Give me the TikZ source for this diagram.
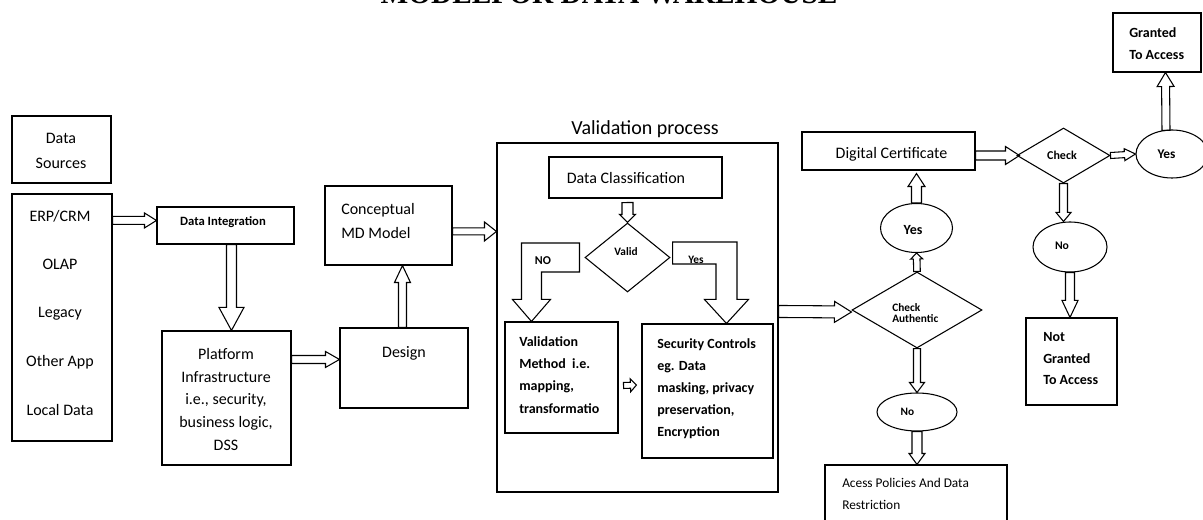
\documentclass[tikz,border=0pt]{standalone}
\usepackage{fontspec}
\setmainfont{Carlito}
\newfontfamily\titlefont{Liberation Serif}
\usetikzlibrary{shapes.geometric,calc,fit}
\tikzset{
  bx/.style={draw, line width=0.8pt, inner sep=0pt},
  hol/.style={draw, line width=0.8pt, line join=miter},
  dia/.style={draw, diamond, line width=0.8pt, inner sep=0pt},
  ell/.style={draw, ellipse, line width=0.8pt, inner sep=0pt},
  txt/.style={inner sep=0pt, font=\fontsize{12}{17}\selectfont},
  btxt/.style={inner sep=0pt, font=\bfseries\fontsize{10.5}{16.75}\selectfont, align=left, anchor=north west},
}
\newcommand\harr[5]{%
  \draw[hol] let \p1=(#1), \p2=(#2),
    \n1={atan2(\y2-\y1,\x2-\x1)}, \n2={veclen(\x2-\x1,\y2-\y1)} in
    ([shift={(\p1)},rotate=\n1]0pt,#3*0.75pt)
    -- ([shift={(\p1)},rotate=\n1]\n2-#5*0.75pt,#3*0.75pt)
    -- ([shift={(\p1)},rotate=\n1]\n2-#5*0.75pt,#4*0.75pt)
    -- ([shift={(\p1)},rotate=\n1]\n2,0pt)
    -- ([shift={(\p1)},rotate=\n1]\n2-#5*0.75pt,-#4*0.75pt)
    -- ([shift={(\p1)},rotate=\n1]\n2-#5*0.75pt,-#3*0.75pt)
    -- ([shift={(\p1)},rotate=\n1]0pt,-#3*0.75pt) -- cycle;}
\begin{document}
\begin{tikzpicture}[x=0.75pt,y=-0.75pt]
\useasboundingbox (0,0) rectangle (1203,520);

% title (cut off by the page top)
\node[inner sep=0pt, anchor=base, font=\titlefont\bfseries\fontsize{22}{22}\selectfont] (title) at (609,4) {MODELFOR DATA WAREHOUSE};

% ---------- left part ----------
\node[bx, fit={(12,116)(111,183)}] (ds) {};
\node[txt, align=center, anchor=north, font=\fontsize{12}{18.75}\selectfont] (dst) at (61,133) {Data\\Sources};

\node[bx, fit={(12,194)(112,441)}] (src) {};
\node[txt, anchor=base] (erp) at (60,222) {ERP/CRM};
\node[txt, anchor=base] (olap) at (60,270) {OLAP};
\node[txt, anchor=base] (leg) at (60,317) {Legacy};
\node[txt, anchor=base] (oth) at (60,366) {Other App};
\node[txt, anchor=base] (loc) at (60,415) {Local Data};

\node[bx, fit={(157,207)(294,244)}] (di) {};
\node[inner sep=0pt, font=\bfseries\fontsize{9.5}{11}\selectfont] (dit) at (223,222) {Data Integration};

\node[bx, fit={(162,331)(291,465)}] (plat) {};
\node[txt, align=center, anchor=north] (platt) at (226,348) {Platform\\Infrastructure\\i.e., security,\\business logic,\\DSS};

\node[bx, fit={(340,328)(468,408)}] (design) {};
\node[txt, anchor=base] (dest) at (404,358) {Design};

\node[bx, fit={(325,186)(452,265)}] (cmd) {};
\node[txt, align=left, anchor=north west, font=\fontsize{12}{18}\selectfont] (cmdt) at (341,203) {Conceptual\\MD Model};

% ---------- validation process ----------
\node[inner sep=0pt, anchor=base, font=\fontsize{15}{18}\selectfont] (vpt) at (645,135) {Validation process};
\node[bx, fit={(497,143)(778,492)}] (vbox) {};
\node[bx, fit={(549,157)(722,198)}] (dc) {};
\node[txt] (dct) at (626,178) {Data Classification};
\node[dia, minimum width=63.75pt, minimum height=51.75pt] (valid) at (627.5,257.5) {};
\node[inner sep=0pt, font=\bfseries\fontsize{8.5}{10}\selectfont] (validt) at (626,252) {Valid};

\node[bx, fit={(505,322)(618,433)}] (vm) {};
\node[btxt] (vmt) at (519,336) {Validation\\Method\ \ i.e.\\mapping,\\transformatio};
\node[bx, fit={(642,324)(773,458)}] (sc) {};
\node[btxt, font=\bfseries\fontsize{10.5}{16.5}\selectfont] (sct) at (657,338) {Security Controls\\eg. Data\\masking, privacy\\preservation,\\Encryption};

\coordinate (nT) at ($(vm.north west)+(27,0)$);
\coordinate (yT) at ($(sc.north west)+(85,0)$);
\draw[hol] ($(nT |- valid.west)+(-10,-14.5)$) -- ($(valid.west)+(-5,-14.5)$)
  -- ($(valid.west)+(-5,14.5)$) -- ($(nT |- valid.west)+(10,14.5)$)
  -- ($(nT)+(10,-22)$) -- ($(nT)+(19,-22)$) -- (nT) -- ($(nT)+(-19,-22)$)
  -- ($(nT)+(-10,-22)$) -- cycle;
\draw[hol] ($(valid.east)+(2,-15.5)$) -- ($(yT |- valid.east)+(10.5,-15.5)$)
  -- ($(yT)+(10.5,-24)$) -- ($(yT)+(22,-24)$) -- (yT) -- ($(yT)+(-22,-24)$)
  -- ($(yT)+(-10.5,-24)$) -- ($(yT |- valid.east)+(-10.5,6.5)$)
  -- ($(valid.east)+(2,6.5)$) -- cycle;
\node[inner sep=0pt, font=\bfseries\fontsize{9}{10}\selectfont] (not) at (543,261) {NO};
\node[inner sep=0pt, font=\bfseries\fontsize{8.5}{10}\selectfont] (yest) at (696,260) {Yes};

% ---------- right part ----------
\node[dia, minimum width=97.5pt, minimum height=57pt] (checkA) at (917,310) {};
\node[inner sep=0pt, align=left, anchor=north west, font=\bfseries\fontsize{8.5}{8.5}\selectfont] (checkAt) at (892,303) {Check\\Authentic};
\node[ell, minimum width=54pt, minimum height=36.75pt] (yes1) at (916.5,228) {};
\node[inner sep=0pt, font=\bfseries\fontsize{10.5}{12}\selectfont] (yes1t) at (913,230) {Yes};
\node[ell, minimum width=60pt, minimum height=28.5pt] (no1) at (917,412) {};
\node[inner sep=0pt, font=\bfseries\fontsize{8.5}{10}\selectfont] (no1t) at (907.5,412) {No};
\node[bx, fit={(802,132)(975,170)}] (digc) {};
\node[txt] (digct) at (891.5,154) {Digital Certificate};
\node[bx, fit={(825,465)(1007,530)}] (acp) {};
\node[inner sep=0pt, align=left, anchor=north west, font=\fontsize{10}{16.25}\selectfont] (acpt) at (842,478) {Acess Policies And Data\\Restriction};

\node[dia, minimum width=69.75pt, minimum height=41.25pt] (check) at (1063.5,155.5) {};
\node[inner sep=0pt, font=\bfseries\fontsize{9}{10}\selectfont] (checkt) at (1062,155.5) {Check};
\node[ell, minimum width=54pt, minimum height=36pt] (yes2) at (1172,154) {};
\node[inner sep=0pt, font=\bfseries\fontsize{10}{12}\selectfont] (yes2t) at (1166.5,154) {Yes};
\node[ell, minimum width=55.5pt, minimum height=37.5pt] (no2) at (1070,247) {};
\node[inner sep=0pt, font=\bfseries\fontsize{8.75}{10}\selectfont] (no2t) at (1062,246) {No};
\node[bx, fit={(1113,13)(1201,72)}] (gta) {};
\node[btxt, font=\bfseries\fontsize{10.5}{17}\selectfont] (gtat) at (1129,27) {Granted\\To Access};
\node[bx, fit={(1026,318)(1117,405)}] (ngta) {};
\node[btxt, font=\bfseries\fontsize{10.5}{16.25}\selectfont] (ngtat) at (1043,332) {Not\\Granted\\To Access};

% ---------- hollow arrows ----------
\harr{$(src.north east)+(0,27)$}{$(di.north west)+(0,14)$}{4}{7.5}{12}
\harr{$(di.south west)+(75,0)$}{$(plat.north west)+(70,0)$}{5}{12.5}{23}
\harr{$(plat.north east)+(0,29)$}{$(design.north west)+(0,32)$}{4}{8}{14}
\harr{$(design.north west)+(63,0)$}{$(cmd.south west)+(78,0)$}{4}{8}{17}
\harr{$(cmd.north east)+(0,46)$}{$(vbox.north west)+(0,89)$}{3.5}{9.5}{12}
\harr{$(dc.south west)+(79,4)$}{valid.north}{5.5}{8}{8}
\harr{$(vm.east)+(5,8)$}{$(sc.west)+(-5,-6)$}{3}{6.5}{6}
\harr{$(vbox.north east)+(0,169)$}{$(checkA.west)+(0,2)$}{6}{10.5}{17}
\harr{checkA.north}{yes1.south}{3.3}{6}{6}
\harr{yes1.north}{$(yes1.north |- digc.south)+(0,3)$}{5}{8.5}{13}
\harr{checkA.south}{no1.north}{3.5}{7.5}{10}
\harr{no1.south}{no1.south |- acp.north}{5}{8}{11}
\harr{digc.east |- check.west}{$(check.west)+(3,0)$}{4.5}{9}{14}
\harr{check.east}{yes2.west}{3}{6}{11}
\harr{$(yes2.north)+(-6,1)$}{$(gta.south west)+(53,0)$}{4}{8.5}{14}
\harr{check.south}{check.south |- no2.north}{4}{7.5}{9}
\harr{no2.south}{no2.south |- ngta.north}{4.5}{8}{17}
\end{tikzpicture}
\end{document}
